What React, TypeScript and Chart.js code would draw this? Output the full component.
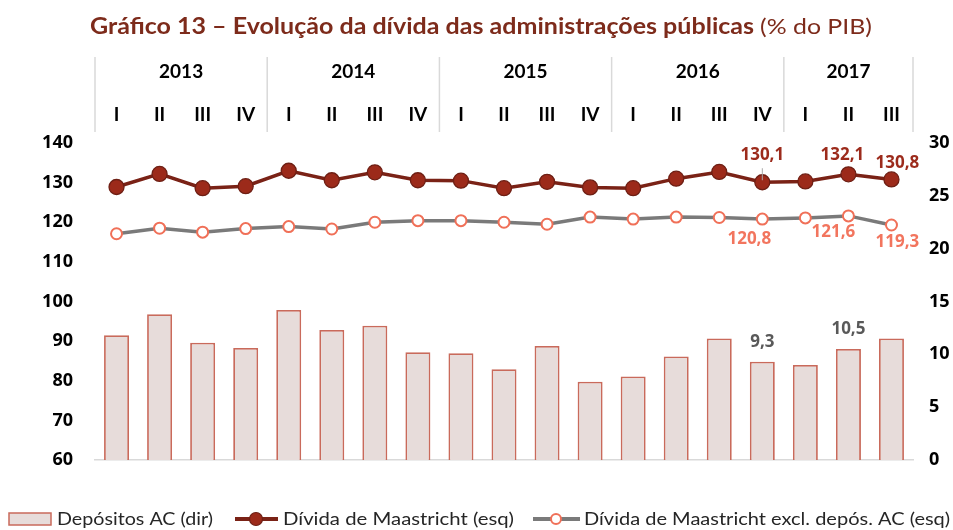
import React, { useEffect, useRef } from "react";
import { Chart, registerables } from "chart.js";

Chart.register(...registerables);

const years = ["2013", "2014", "2015", "2016", "2017"];
const quartersPerYear = [4, 4, 4, 4, 3];
const quarterNames = ["I", "II", "III", "IV"];
const categories = [
  "2013 I", "2013 II", "2013 III", "2013 IV",
  "2014 I", "2014 II", "2014 III", "2014 IV",
  "2015 I", "2015 II", "2015 III", "2015 IV",
  "2016 I", "2016 II", "2016 III", "2016 IV",
  "2017 I", "2017 II", "2017 III",
];
const maastricht = [128.9, 132.2, 128.6, 129.1, 133.0, 130.6, 132.6, 130.6, 130.5, 128.6, 130.2, 128.8, 128.6, 131.0, 132.7, 130.1, 130.3, 132.1, 130.8];
const exclDeposits = [117.1, 118.5, 117.5, 118.4, 118.9, 118.3, 120.0, 120.4, 120.4, 120.0, 119.5, 121.3, 120.8, 121.3, 121.2, 120.8, 121.1, 121.6, 119.3];
const deposits = [11.8, 13.8, 11.1, 10.6, 14.2, 12.3, 12.7, 10.2, 10.1, 8.6, 10.8, 7.4, 7.9, 9.8, 11.5, 9.3, 9.0, 10.5, 11.5];

const leftTicks = { min: 60, max: 140, step: 10 };
const rightTicks = { min: 0, max: 30, step: 5 };

const labeledLineIdx = [15, 17, 18];
const labeledBarIdx = [15, 17];

const titleBold = "Gráfico 13 – Evolução da dívida das administrações públicas";
const titleNormal = "(% do PIB)";
const legendLabels = ["Depósitos AC (dir)", "Dívida de Maastricht (esq)", "Dívida de Maastricht excl. depós. AC (esq)"];

const C = {
  title: "#7d2b1b",
  barFill: "#e7dcda",
  barBorder: "#c96a5b",
  mLine: "#7a2216",
  mPoint: "#9c2a1a",
  mPointBorder: "#6e1f14",
  mLabel: "#9c2b1c",
  eLine: "#7a7a7a",
  ePointBorder: "#f07058",
  eLabel: "#f2755e",
  barLabel: "#595959",
  divider: "#d9d9d9",
};

const fmt = (v: number) => v.toFixed(1).replace(".", ",");

function fitText(ctx: CanvasRenderingContext2D, text: string, x: number, y: number, w: number) {
  const m = ctx.measureText(text).width;
  const sx = w / m;
  ctx.save();
  ctx.translate(x, y);
  ctx.scale(sx, 1);
  ctx.textAlign = "left";
  ctx.fillText(text, 0, 0);
  ctx.restore();
}

const decorPlugin = {
  id: "decor",
  afterDraw(chart: any) {
    const ctx: CanvasRenderingContext2D = chart.ctx;
    const xs = chart.scales.x;
    const area = chart.chartArea;
    const step = (area.right - area.left) / categories.length;
    ctx.save();
    // title
    ctx.fillStyle = C.title;
    ctx.textBaseline = "middle";
    ctx.font = "bold 22px Lato, 'Open Sans', sans-serif";
    fitText(ctx, titleBold, 90, 27, 664);
    ctx.font = "22px Lato, 'Open Sans', sans-serif";
    fitText(ctx, titleNormal, 760, 27, 112);

    // header dividers and labels
    ctx.strokeStyle = C.divider;
    ctx.lineWidth = 1.5;
    let k = 0;
    const bounds: number[] = [area.left];
    quartersPerYear.forEach((n) => {
      k += n;
      bounds.push(area.left + k * step);
    });
    bounds.forEach((bx) => {
      ctx.beginPath();
      ctx.moveTo(bx, 57);
      ctx.lineTo(bx, 132);
      ctx.stroke();
    });
    ctx.fillStyle = "#000";
    ctx.textAlign = "center";
    ctx.font = "bold 19px Lato, 'Open Sans', sans-serif";
    years.forEach((yr, i) => {
      ctx.fillText(yr, (bounds[i] + bounds[i + 1]) / 2, 72);
    });
    let idx = 0;
    quartersPerYear.forEach((n) => {
      for (let q = 0; q < n; q++) {
        ctx.fillText(quarterNames[q], xs.getPixelForValue(idx), 115);
        idx++;
      }
    });

    // data labels
    const mMeta = chart.getDatasetMeta(0);
    const eMeta = chart.getDatasetMeta(1);
    const bMeta = chart.getDatasetMeta(2);
    const mOff: Record<number, [number, number]> = { 15: [0, -27], 17: [-6, -19], 18: [6, -16] };
    const eOff: Record<number, [number, number]> = { 15: [-13, 20], 17: [-15, 16], 18: [6, 17] };
    ctx.font = "bold 17px 'Open Sans', sans-serif";
    ctx.textAlign = "center";
    labeledLineIdx.forEach((i) => {
      const p = mMeta.data[i];
      const o = mOff[i] || [0, -20];
      if (i === 15) {
        ctx.strokeStyle = "#a8a8a8";
        ctx.lineWidth = 1;
        ctx.beginPath();
        ctx.moveTo(p.x, p.y - 14);
        ctx.lineTo(p.x, p.y - 2);
        ctx.stroke();
      }
      ctx.fillStyle = C.mLabel;
      ctx.fillText(fmt(maastricht[i]), p.x + o[0], p.y + o[1]);
      const q = eMeta.data[i];
      const oe = eOff[i] || [0, 18];
      ctx.fillStyle = C.eLabel;
      ctx.fillText(fmt(exclDeposits[i]), q.x + oe[0], q.y + oe[1]);
    });
    ctx.fillStyle = C.barLabel;
    labeledBarIdx.forEach((i) => {
      const b = bMeta.data[i];
      ctx.fillText(fmt(deposits[i]), b.x, b.y - 20);
    });

    // legend
    const ly = 519;
    ctx.fillStyle = C.barFill;
    ctx.fillRect(9, 513, 42, 12);
    ctx.strokeStyle = C.barBorder;
    ctx.lineWidth = 1.5;
    ctx.strokeRect(9, 513, 42, 12);
    ctx.strokeStyle = C.mLine;
    ctx.lineWidth = 4;
    ctx.beginPath();
    ctx.moveTo(235, ly);
    ctx.lineTo(278, ly);
    ctx.stroke();
    ctx.fillStyle = C.mPoint;
    ctx.strokeStyle = C.mPointBorder;
    ctx.lineWidth = 1.2;
    ctx.beginPath();
    ctx.arc(256, ly, 6.5, 0, Math.PI * 2);
    ctx.fill();
    ctx.stroke();
    ctx.strokeStyle = C.eLine;
    ctx.lineWidth = 4;
    ctx.beginPath();
    ctx.moveTo(533, ly);
    ctx.lineTo(580, ly);
    ctx.stroke();
    ctx.fillStyle = "#fff";
    ctx.strokeStyle = C.ePointBorder;
    ctx.lineWidth = 2;
    ctx.beginPath();
    ctx.arc(556, ly, 5, 0, Math.PI * 2);
    ctx.fill();
    ctx.stroke();
    ctx.fillStyle = "#262626";
    ctx.textBaseline = "middle";
    ctx.font = "18px Lato, 'Open Sans', sans-serif";
    fitText(ctx, legendLabels[0], 57, ly, 156);
    fitText(ctx, legendLabels[1], 283, ly, 231);
    fitText(ctx, legendLabels[2], 584, ly, 366);
    ctx.restore();
  },
};

export default function App() {
  const ref = useRef<HTMLCanvasElement>(null);
  useEffect(() => {
    document.body.style.margin = "0";
    const canvas = ref.current!;
    const tickFont = { family: "'Open Sans', sans-serif", size: 18, weight: "bold" as const };
    const chart = new Chart(canvas, {
      type: "bar",
      data: {
        labels: categories,
        datasets: [
          {
            type: "line",
            label: legendLabels[1],
            data: maastricht,
            yAxisID: "y",
            order: 1,
            borderColor: C.mLine,
            borderWidth: 3.5,
            pointRadius: 7.5,
            pointBackgroundColor: C.mPoint,
            pointBorderColor: C.mPointBorder,
            pointBorderWidth: 1.3,
            tension: 0,
          },
          {
            type: "line",
            label: legendLabels[2],
            data: exclDeposits,
            yAxisID: "y",
            order: 2,
            borderColor: C.eLine,
            borderWidth: 3.5,
            pointRadius: 5.5,
            pointBackgroundColor: "#fff",
            pointBorderColor: C.ePointBorder,
            pointBorderWidth: 2,
            tension: 0,
          },
          {
            type: "bar",
            label: legendLabels[0],
            data: deposits,
            yAxisID: "y1",
            order: 3,
            backgroundColor: C.barFill,
            borderColor: C.barBorder,
            borderWidth: 1.8,
            categoryPercentage: 1,
            barPercentage: 0.58,
          },
        ] as any,
      },
      options: {
        responsive: false,
        animation: false,
        layout: { padding: { top: 143, bottom: 70, left: 0, right: 0 } },
        plugins: { legend: { display: false }, tooltip: { enabled: false }, title: { display: false } },
        scales: {
          x: {
            type: "category",
            offset: true,
            grid: { display: false, drawTicks: false },
            ticks: { display: false },
            border: { display: true, color: C.divider, width: 1.5 },
            afterFit: (s: any) => { s.height = 0; },
          },
          y: {
            position: "left",
            min: leftTicks.min,
            max: leftTicks.max,
            ticks: { stepSize: leftTicks.step, font: tickFont, color: "#000", padding: 22 },
            grid: { display: false, drawTicks: false },
            border: { display: false },
            afterFit: (s: any) => { s.width = 95; },
          },
          y1: {
            position: "right",
            min: rightTicks.min,
            max: rightTicks.max,
            ticks: { stepSize: rightTicks.step, font: tickFont, color: "#000", padding: 16 },
            grid: { display: false, drawTicks: false },
            border: { display: false },
            afterFit: (s: any) => { s.width = 40; },
          },
        },
      } as any,
      plugins: [decorPlugin],
    });
    return () => chart.destroy();
  }, []);
  return (
    <div style={{ width: 953, height: 530 }}>
      <canvas ref={ref} width={953} height={530} style={{ display: "block", width: 953, height: 530 }} />
    </div>
  );
}
